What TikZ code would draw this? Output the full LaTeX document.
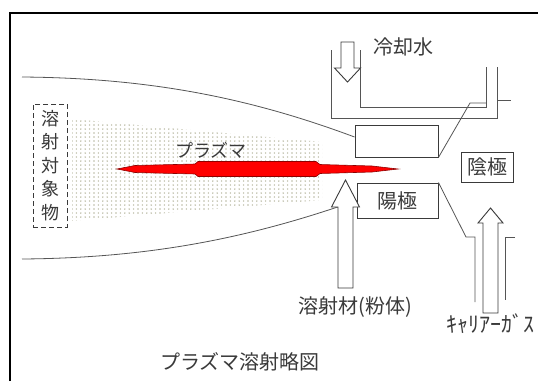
\documentclass[tikz,border=0pt]{standalone}
\usepackage{fontspec}
\setmainfont{Noto Sans CJK JP}
\usetikzlibrary{calc}
\definecolor{ink}{HTML}{3A3A3A}
\definecolor{linecol}{HTML}{555555}
\definecolor{dotcol}{HTML}{B9B9A2}
\definecolor{plasma}{HTML}{FF0000}
\definecolor{plasmaedge}{HTML}{8E0000}

% hollow block arrow: x, tail y, tip y, head base y, shaft half width, head half width
\newcommand{\blockarrow}[6]{%
  \filldraw[blockarr] ({#1-#5},#2) -- ({#1-#5},#4) -- ({#1-#6},#4) -- (#1,#3)
    -- ({#1+#6},#4) -- ({#1+#5},#4) -- ({#1+#5},#2) -- cycle;}

\begin{document}
\begin{tikzpicture}[x=1pt, y=-1pt,
    every node/.style={text=ink},
    lbl/.style={font=\fontsize{20}{22}\selectfont},
    lblsm/.style={font=\fontsize{18}{20}\selectfont},
    partbox/.style={draw=ink, line width=0.9pt, fill=white, inner sep=0pt},
    pipe/.style={draw=linecol, line width=0.9pt},
    jetline/.style={draw=linecol, line width=0.8pt},
    blockarr/.style={fill=white, draw=ink, line width=0.9pt, line join=miter},
]
\useasboundingbox (0,0) rectangle (538,381);
\fill[white] (0,0) rectangle (538,381);
% frame
\draw[black, line width=2pt] (10,381) -- (10,13) -- (538,13);

% sprayed particles
\begin{scope}
  \clip (72,119) -- (322,142) -- (322,200) -- (72,221) -- cycle;
  \foreach \y in {117,121,...,225}{
    \foreach \x in {72,76.4,...,324}{
      \fill[dotcol] (\x,\y) circle[radius=0.8pt];
    }
  }
\end{scope}

% plasma jet
\filldraw[fill=plasma, draw=plasmaedge, line width=0.6pt]
  (117,169) -- (135,165.5) -- (195,164) -- (198,161.5) -- (316,161.5)
  -- (320,164.5) -- (372,166) -- (398,169) -- (372,172) -- (320,173.5)
  -- (316,176.5) -- (198,176.5) -- (195,174) -- (135,172.5) -- cycle;
\node[lblsm] (plasmalabel) at (211,150) {プラズマ};

% torch parts
\node[partbox, minimum width=83pt, minimum height=32pt] (nozzle) at (396.5,141) {};
\node[partbox, lbl, minimum width=81pt, minimum height=35pt] (anode) at (397.5,200.5) {陽極};
\node[partbox, lbl, minimum width=52pt, minimum height=30pt] (cathode) at (487,167) {陰極};

% target
\node[draw=ink, dash pattern=on 5pt off 3pt, line width=0.9pt, minimum width=34pt,
      minimum height=123pt, align=center, font=\fontsize{18}{23.5}\selectfont]
      (target) at (50,165.5) {溶\\射\\対\\象\\物};

% spray envelope
\coordinate (jetTop) at (22,77);
\coordinate (jetBot) at (22,259);
\draw[jetline] (jetTop) .. controls (150,78) and (250,98) .. ([yshift=4pt]nozzle.west);
\draw[jetline] (jetBot) .. controls (150,258) and (250,238) .. (anode.west);

% cooling water jacket
\draw[pipe] (331,50) -- (331,118) -- (497,118) -- (497,67);
\draw[pipe] (360,50) -- (360,107) -- (486,107) -- (486,67);
\draw[pipe] (497,100) -- (511,100);
\draw[jetline] (nozzle.south east) -- (470,103) -- (486,103);

% gas inlet
\draw[jetline] (anode.north east) -- (466,237) -- (475,237) -- (475,302);
\draw[jetline] (515,237) -- (505,237) -- (505,300);

% flows
\blockarrow{347.5}{42}{82}{68}{6.5}{13}
\blockarrow{345.5}{288}{180}{207}{7.5}{14}
\blockarrow{490.5}{313}{208}{223}{7.5}{12.5}

% labels
\node[lbl] (water) at (403,47) {冷却水};
\node[lbl] (powder) at (355,307) {溶射材(粉体)};
\node[font=\fontsize{22}{24}\selectfont, anchor=west, inner sep=0pt] (gas) at (446,324) {ｷｬﾘｱｰｶﾞｽ};
\node[lbl] (title) at (240,362) {プラズマ溶射略図};
\end{tikzpicture}
\end{document}
